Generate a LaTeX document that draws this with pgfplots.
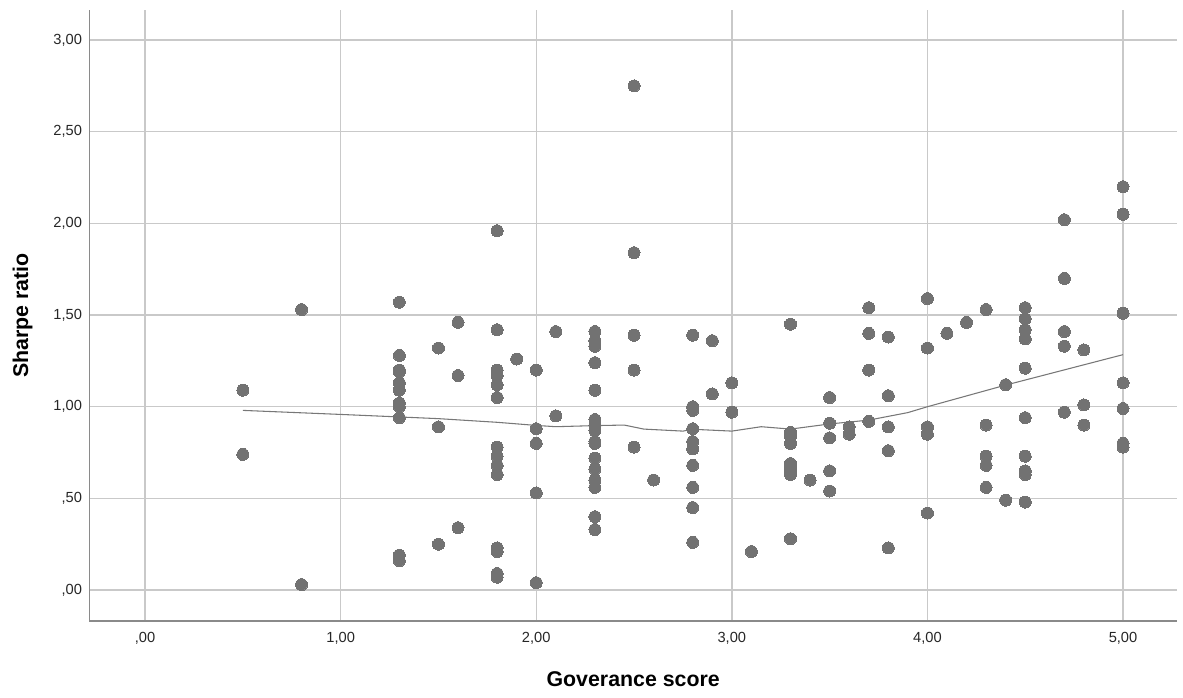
\documentclass[border=0pt]{standalone}
\usepackage{fontspec}
\setmainfont{Liberation Sans}
\usepackage{pgfplots}
\pgfplotsset{compat=1.18}
\usetikzlibrary{calc}

\definecolor{dotgray}{HTML}{727272}
\definecolor{gridgray}{HTML}{C9C9C9}
\definecolor{spinegray}{HTML}{8A8A8A}
\definecolor{fitgray}{HTML}{777777}

\begin{document}
\begin{tikzpicture}
\begin{axis}[
  scale only axis,
  width=815.8pt, height=458.3pt,
  xmin=-0.285, xmax=5.276,
  ymin=-0.169, ymax=3.164,
  axis x line*=bottom, axis y line*=left,
  axis line style={spinegray, line width=1.2pt, -},
  major tick length=0pt,
  xtick={0,1,2,3,4,5},
  xticklabels={{,00},{1,00},{2,00},{3,00},{4,00},{5,00}},
  ytick={0,0.5,1,1.5,2,2.5,3},
  yticklabels={{,00},{,50},{1,00},{1,50},{2,00},{2,50},{3,00}},
  xmajorgrids, ymajorgrids,
  grid style={gridgray, line width=1.1pt},
  tick label style={font=\fontsize{11}{13}\selectfont, text=black!85},
  xticklabel style={anchor=north, inner sep=0pt, yshift=-8pt},
  yticklabel style={anchor=east, inner sep=0pt, xshift=-5.3pt},
  xlabel={Goverance score},
  ylabel={Sharpe ratio},
  label style={font=\bfseries\fontsize{16}{18}\selectfont},
  xlabel style={at={(axis description cs:0.5,0)}, anchor=center, yshift=-43.5pt},
  ylabel style={at={(axis description cs:0,0.5)}, anchor=center, yshift=50pt},
  clip=false,
]
% observations
\addplot[only marks, color=dotgray, mark=*, mark size=4.5pt,
  mark options={draw=dotgray, fill=dotgray, line width=0pt}]
  table {
x y
0.5 1.09
0.5 0.74
0.8 1.53
0.8 0.03
1.3 1.57
1.3 1.28
1.3 1.20
1.3 1.19
1.3 1.13
1.3 1.09
1.3 1.02
1.3 1.00
1.3 0.94
1.3 0.19
1.3 0.16
1.5 1.32
1.5 0.89
1.5 0.25
1.6 1.46
1.6 1.17
1.6 0.34
1.8 1.96
1.8 1.42
1.8 1.20
1.8 1.17
1.8 1.12
1.8 1.05
1.8 0.78
1.8 0.73
1.8 0.68
1.8 0.63
1.8 0.23
1.8 0.21
1.8 0.09
1.8 0.07
1.9 1.26
2.0 1.20
2.0 0.88
2.0 0.80
2.0 0.53
2.0 0.04
2.1 1.41
2.1 0.95
2.3 1.41
2.3 1.36
2.3 1.33
2.3 1.24
2.3 1.09
2.3 0.93
2.3 0.90
2.3 0.87
2.3 0.81
2.3 0.80
2.3 0.72
2.3 0.66
2.3 0.60
2.3 0.56
2.3 0.40
2.3 0.33
2.5 2.75
2.5 1.84
2.5 1.39
2.5 1.20
2.5 0.78
2.6 0.60
2.8 1.39
2.8 1.00
2.8 0.98
2.8 0.88
2.8 0.81
2.8 0.77
2.8 0.68
2.8 0.56
2.8 0.45
2.8 0.26
2.9 1.36
2.9 1.07
3.0 1.13
3.0 0.97
3.1 0.21
3.3 1.45
3.3 0.86
3.3 0.84
3.3 0.80
3.3 0.69
3.3 0.66
3.3 0.63
3.3 0.28
3.4 0.60
3.5 1.05
3.5 0.91
3.5 0.83
3.5 0.65
3.5 0.54
3.6 0.89
3.6 0.85
3.7 1.54
3.7 1.40
3.7 1.20
3.7 0.92
3.8 1.38
3.8 1.06
3.8 0.89
3.8 0.76
3.8 0.23
4.0 1.59
4.0 1.32
4.0 0.89
4.0 0.85
4.0 0.42
4.1 1.40
4.2 1.46
4.3 1.53
4.3 0.90
4.3 0.73
4.3 0.68
4.3 0.56
4.4 1.12
4.4 0.49
4.5 1.54
4.5 1.48
4.5 1.42
4.5 1.37
4.5 1.21
4.5 0.94
4.5 0.73
4.5 0.65
4.5 0.63
4.5 0.48
4.7 2.02
4.7 1.70
4.7 1.41
4.7 1.33
4.7 0.97
4.8 1.31
4.8 1.01
4.8 0.90
5.0 2.20
5.0 2.05
5.0 1.51
5.0 1.13
5.0 0.99
5.0 0.80
5.0 0.78
};
% loess fit line
\addplot[fitgray, line width=0.8pt, mark=none] coordinates {
(0.5,0.980) (1.0,0.958) (1.5,0.935) (1.8,0.915) (2.0,0.898) (2.1,0.891)
(2.3,0.897) (2.45,0.900) (2.55,0.878) (2.75,0.867) (2.8,0.877) (3.0,0.867)
(3.15,0.891) (3.3,0.878) (3.5,0.906) (3.7,0.927) (3.9,0.968) (4.0,1.000)
(4.4,1.118) (5.0,1.284)
};
\coordinate (sw) at (rel axis cs:0,0);
\coordinate (ne) at (rel axis cs:1,1);
\end{axis}
\pgfresetboundingbox
\path ($(sw)+(-67pt,-57pt)$) rectangle ($(ne)+(4.5pt,7.5pt)$);
\end{tikzpicture}
\end{document}
